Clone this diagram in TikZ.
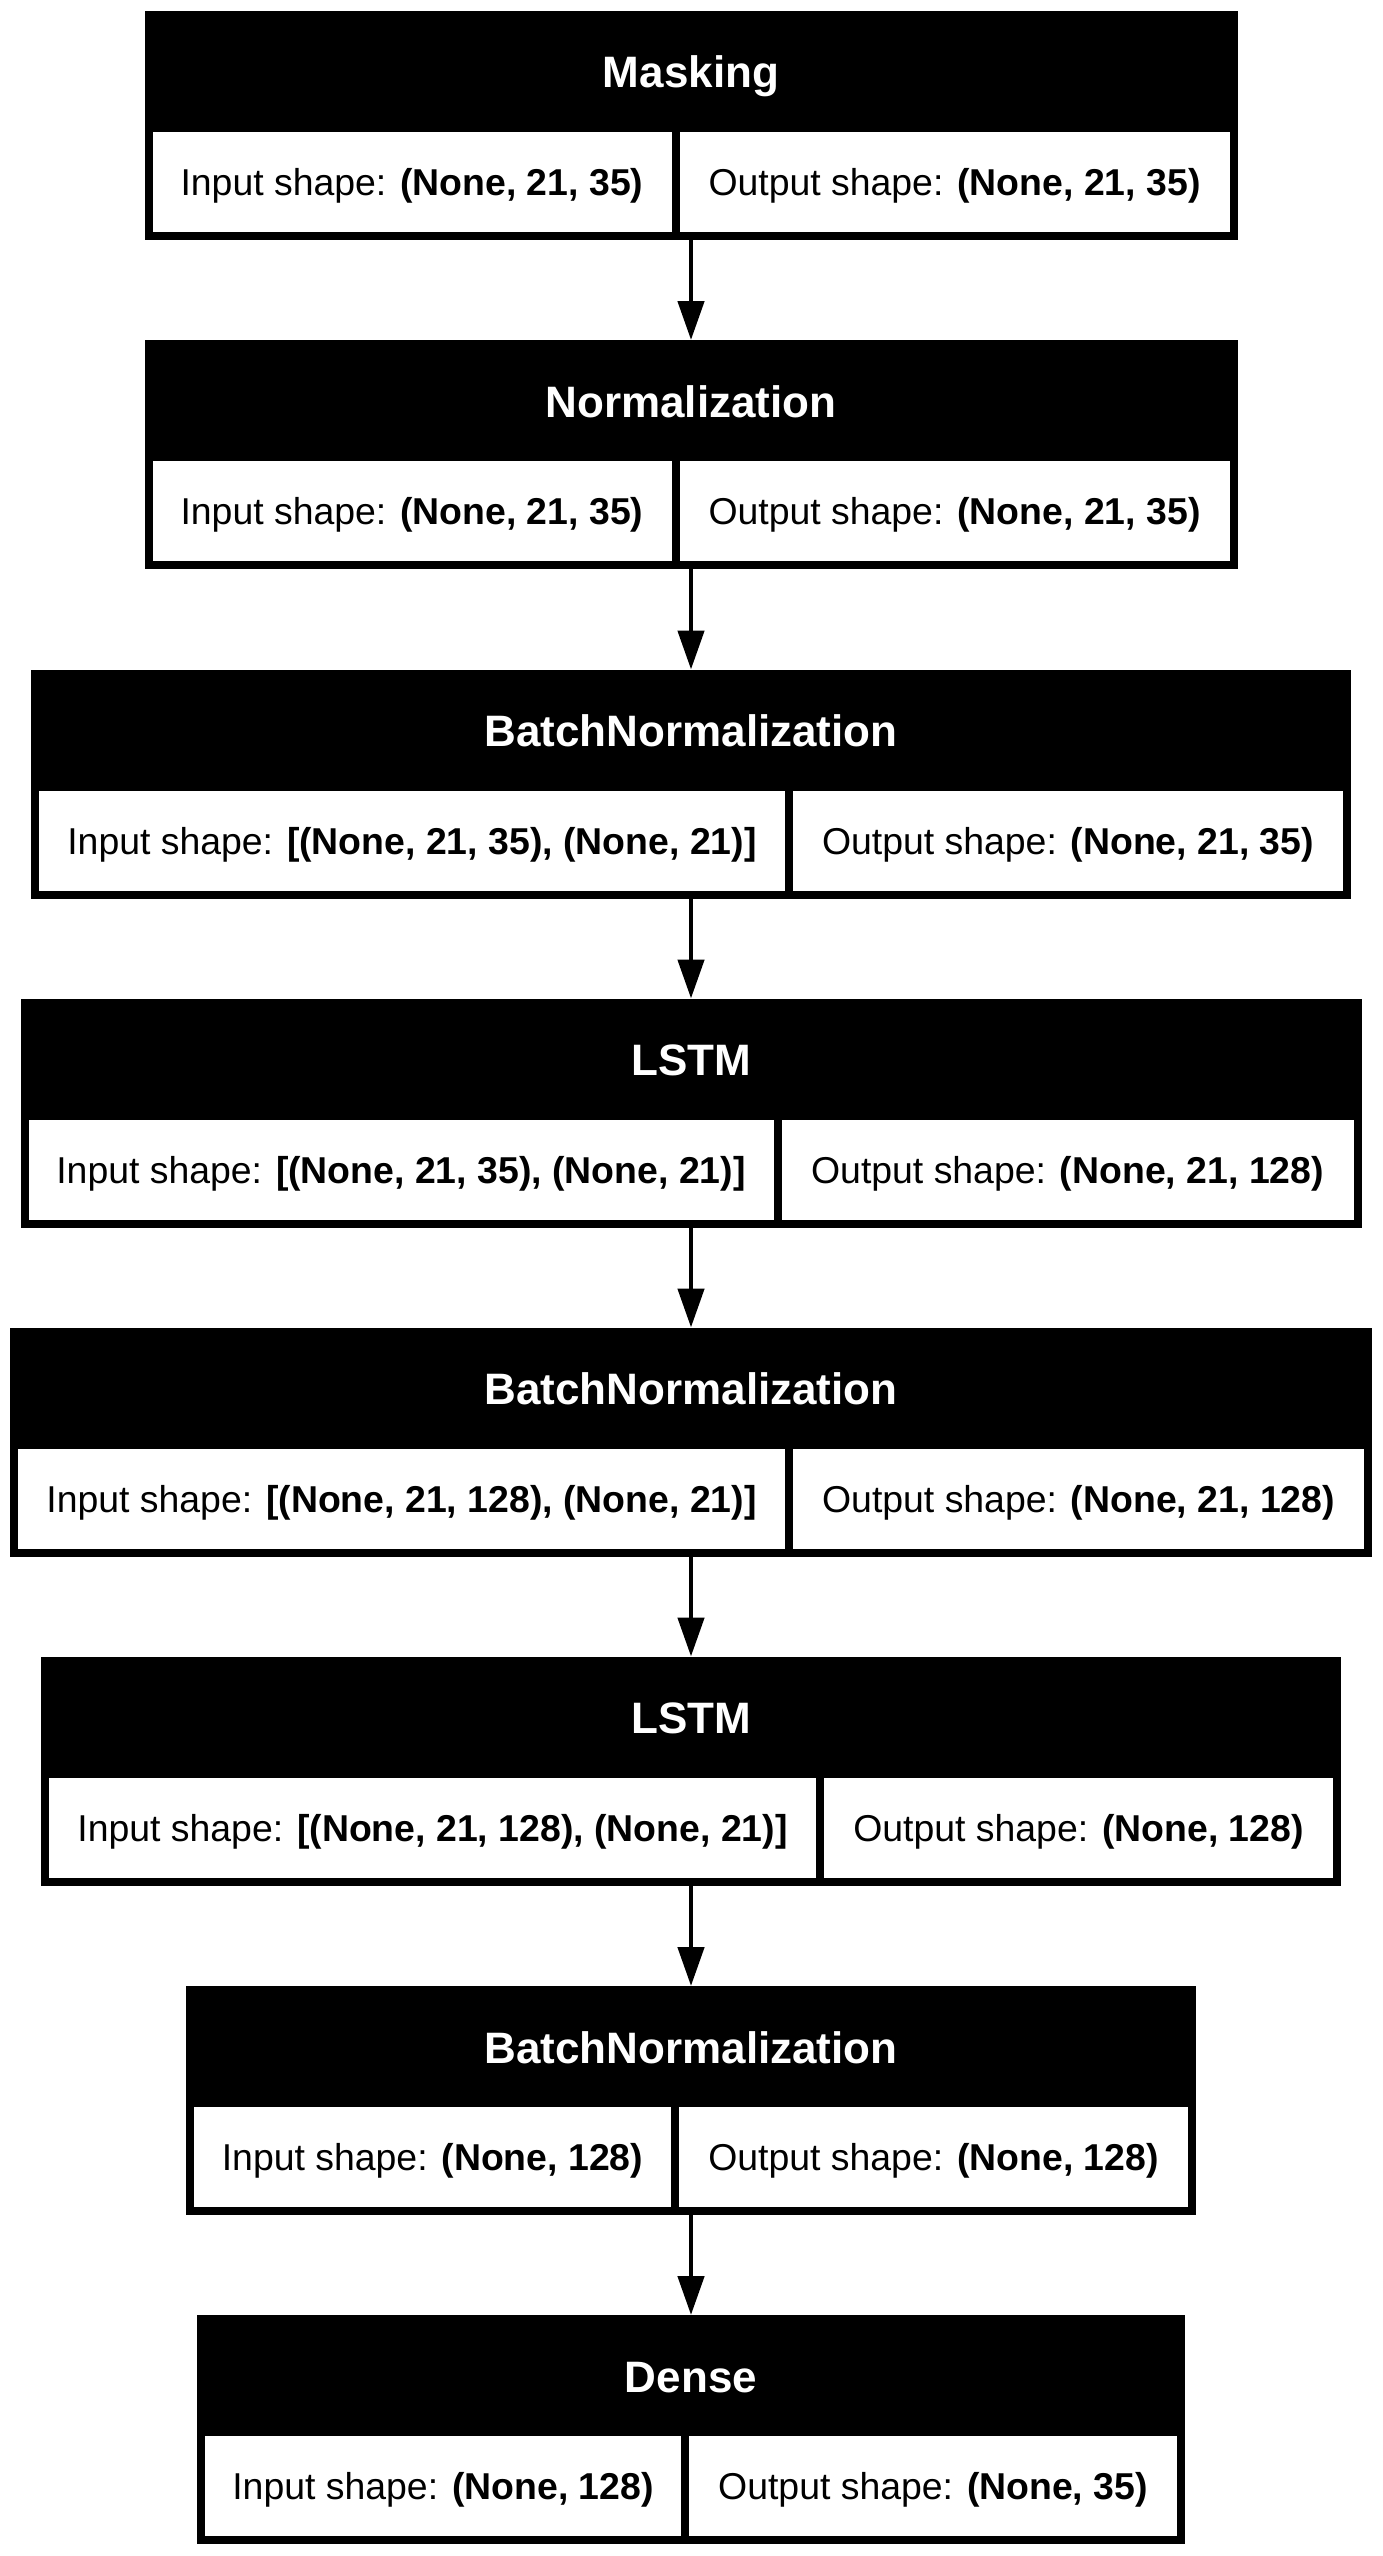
\documentclass[tikz,border=0pt]{standalone}
\usepackage{fontspec}
\setmainfont{Liberation Sans}
\usetikzlibrary{calc, arrows.meta}
\tikzset{>=latex}
\tikzset{ % layer boxes
  layer/.style={fill=black, inner sep=0pt, anchor=north, minimum height=229pt},
  layername/.style={text=white, anchor=base, inner sep=0pt, font=\fontsize{44}{52}\selectfont\bfseries},
  shapecell/.style={fill=white, inner sep=0pt, minimum height=100pt, text height=27pt, text depth=0pt,
    font=\fontsize{37.4}{45}\selectfont},
  incell/.style={shapecell, anchor=north west},
  outcell/.style={shapecell, anchor=north east},
  flow/.style={line width=4.7pt, -{Triangle[length=39pt, width=26pt]}}
}

\begin{document}
\begin{tikzpicture}[x=1pt, y=-1pt]
\useasboundingbox (0,0) rectangle (1382,2556);

% Masking
\node[layer, minimum width=1093pt] (mask) at (691,11) {};
\node[layername] (mask-name) at ([yshift=-77pt]mask.north) {Masking};
\node[incell, minimum width=519pt] (mask-in) at ([shift={(8pt,-121pt)}]mask.north west) {Input shape: \textbf{(None, 21, 35)}};
\node[outcell, minimum width=550pt] (mask-out) at ([shift={(-8pt,-121pt)}]mask.north east) {Output shape: \textbf{(None, 21, 35)}};

% Normalization
\node[layer, minimum width=1093pt] (norm) at (691,340) {};
\node[layername] (norm-name) at ([yshift=-77pt]norm.north) {Normalization};
\node[incell, minimum width=519pt] (norm-in) at ([shift={(8pt,-121pt)}]norm.north west) {Input shape: \textbf{(None, 21, 35)}};
\node[outcell, minimum width=550pt] (norm-out) at ([shift={(-8pt,-121pt)}]norm.north east) {Output shape: \textbf{(None, 21, 35)}};

% BatchNormalization
\node[layer, minimum width=1320pt] (bnorma) at (691,669.5) {};
\node[layername] (bnorma-name) at ([yshift=-77pt]bnorma.north) {BatchNormalization};
\node[incell, minimum width=746pt] (bnorma-in) at ([shift={(8pt,-121pt)}]bnorma.north west) {Input shape: \textbf{[(None, 21, 35), (None, 21)]}};
\node[outcell, minimum width=550pt] (bnorma-out) at ([shift={(-8pt,-121pt)}]bnorma.north east) {Output shape: \textbf{(None, 21, 35)}};

% LSTM
\node[layer, minimum width=1341pt] (lstma) at (691,998.5) {};
\node[layername] (lstma-name) at ([yshift=-77pt]lstma.north) {LSTM};
\node[incell, minimum width=745pt] (lstma-in) at ([shift={(8pt,-121pt)}]lstma.north west) {Input shape: \textbf{[(None, 21, 35), (None, 21)]}};
\node[outcell, minimum width=572pt] (lstma-out) at ([shift={(-8pt,-121pt)}]lstma.north east) {Output shape: \textbf{(None, 21, 128)}};

% BatchNormalization
\node[layer, minimum width=1362pt] (bnormb) at (691,1327.5) {};
\node[layername] (bnormb-name) at ([yshift=-77pt]bnormb.north) {BatchNormalization};
\node[incell, minimum width=767pt] (bnormb-in) at ([shift={(8pt,-121pt)}]bnormb.north west) {Input shape: \textbf{[(None, 21, 128), (None, 21)]}};
\node[outcell, minimum width=571pt] (bnormb-out) at ([shift={(-8pt,-121pt)}]bnormb.north east) {Output shape: \textbf{(None, 21, 128)}};

% LSTM
\node[layer, minimum width=1300pt] (lstmb) at (691,1656.5) {};
\node[layername] (lstmb-name) at ([yshift=-77pt]lstmb.north) {LSTM};
\node[incell, minimum width=767pt] (lstmb-in) at ([shift={(8pt,-121pt)}]lstmb.north west) {Input shape: \textbf{[(None, 21, 128), (None, 21)]}};
\node[outcell, minimum width=509pt] (lstmb-out) at ([shift={(-8pt,-121pt)}]lstmb.north east) {Output shape: \textbf{(None, 128)}};

% BatchNormalization
\node[layer, minimum width=1010pt] (bnormc) at (691,1986) {};
\node[layername] (bnormc-name) at ([yshift=-77pt]bnormc.north) {BatchNormalization};
\node[incell, minimum width=477pt] (bnormc-in) at ([shift={(8pt,-121pt)}]bnormc.north west) {Input shape: \textbf{(None, 128)}};
\node[outcell, minimum width=509pt] (bnormc-out) at ([shift={(-8pt,-121pt)}]bnormc.north east) {Output shape: \textbf{(None, 128)}};

% Dense
\node[layer, minimum width=988pt] (dense) at (691,2315) {};
\node[layername] (dense-name) at ([yshift=-77pt]dense.north) {Dense};
\node[incell, minimum width=476pt] (dense-in) at ([shift={(8pt,-121pt)}]dense.north west) {Input shape: \textbf{(None, 128)}};
\node[outcell, minimum width=488pt] (dense-out) at ([shift={(-8pt,-121pt)}]dense.north east) {Output shape: \textbf{(None, 35)}};

\path[flow]
(mask.south) edge (norm.north)
(norm.south) edge (bnorma.north)
(bnorma.south) edge (lstma.north)
(lstma.south) edge (bnormb.north)
(bnormb.south) edge (lstmb.north)
(lstmb.south) edge (bnormc.north)
(bnormc.south) edge (dense.north);
\end{tikzpicture}
\end{document}
